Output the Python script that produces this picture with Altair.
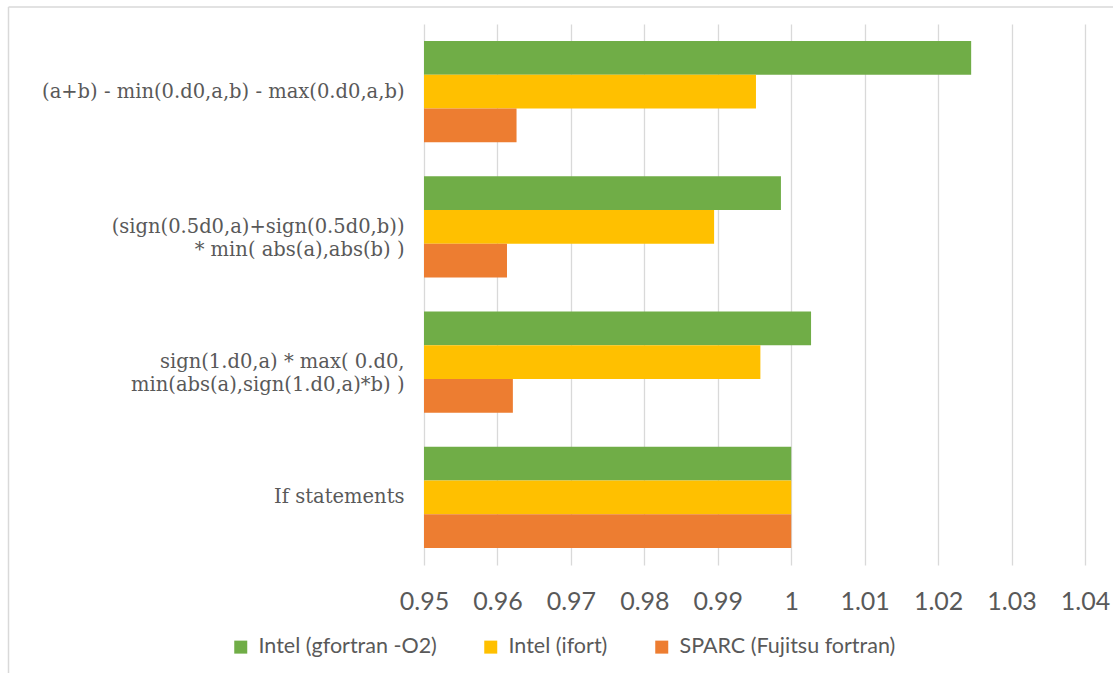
import altair as alt
import pandas as pd

# Benchmark variants, listed top to bottom
categories = [
    "(a+b) - min(0.d0,a,b) - max(0.d0,a,b)",
    "(sign(0.5d0,a)+sign(0.5d0,b))\n* min( abs(a),abs(b) )",
    "sign(1.d0,a) * max( 0.d0,\nmin(abs(a),sign(1.d0,a)*b) )",
    "If statements",
]
series = ["Intel (gfortran -O2)", "Intel (ifort)", "SPARC (Fujitsu fortran)"]
colors = ["#70AD47", "#FFC000", "#ED7D31"]

# Relative run time, one list per compiler/platform, in category order
gfortran = [1.0245, 0.9986, 1.0027, 1.0]
ifort = [0.9952, 0.9895, 0.9958, 1.0]
fujitsu = [0.9626, 0.9613, 0.9621, 1.0]

x_ticks = [0.95, 0.96, 0.97, 0.98, 0.99, 1.0, 1.01, 1.02, 1.03, 1.04]

rows = []
for name, vals in zip(series, [gfortran, ifort, fujitsu]):
    for cat, v in zip(categories, vals):
        rows.append({"variant": cat, "compiler": name, "ratio": v})
df = pd.DataFrame(rows)

grey_text = "#595959"
grid = "#D9D9D9"

bars = alt.Chart(df).mark_bar().encode(
    y=alt.Y(
        "variant:N",
        sort=categories,
        title=None,
        scale=alt.Scale(paddingInner=0.25, paddingOuter=0.125),
        axis=alt.Axis(
            labelExpr="split(datum.label, '\\n')",
            labelFont="DejaVu Serif",
            labelFontSize=19.5,
            labelColor=grey_text,
            labelLineHeight=23,
            labelPadding=20,
            labelLimit=420,
            ticks=False,
            domain=False,
            grid=False,
        ),
    ),
    yOffset=alt.YOffset("compiler:N", sort=series),
    x=alt.X(
        "ratio:Q",
        title=None,
        scale=alt.Scale(domain=[0.95, 1.04], zero=False, nice=False),
        axis=alt.Axis(
            values=x_ticks,
            format="~g",
            labelFont="Lato",
            labelFontSize=25,
            labelColor=grey_text,
            labelPadding=24,
            labelFlush=False,
            labelOverlap=False,
            ticks=False,
            domain=False,
            grid=True,
            gridColor=grid,
            gridWidth=1.3,
        ),
    ),
    x2=alt.X2(datum=0.95),
    color=alt.Color(
        "compiler:N",
        sort=series,
        scale=alt.Scale(domain=series, range=colors),
        legend=alt.Legend(
            title=None,
            orient="none",
            direction="horizontal",
            legendX=-194,
            legendY=612,
            symbolType="square",
            symbolSize=169,
            symbolStrokeWidth=0,
            labelFont="Lato",
            labelFontSize=21.5,
            labelColor=grey_text,
            labelOffset=7,
            labelLimit=300,
            columnPadding=43,
        ),
    ),
)

# Light outer frame of the chart area
frame_left = alt.Chart().mark_rule(color=grid, strokeWidth=1.5).encode(
    x=alt.value(-415.5), y=alt.value(-17), y2=alt.value(649)
)
frame_top = alt.Chart().mark_rule(color=grid, strokeWidth=1.5).encode(
    x=alt.value(-415.5), x2=alt.value(700), y=alt.value(-17)
)

chart = (
    alt.layer(bars, frame_left, frame_top)
    .properties(
        width=661,
        height=541,
        autosize=alt.AutoSizeParams(type="none"),
        padding={"left": 424, "top": 24, "right": 28, "bottom": 108},
        background="white",
    )
    .configure_view(stroke=None)
)

chart.save("out.html", embed_options={"renderer": "svg", "actions": False})
